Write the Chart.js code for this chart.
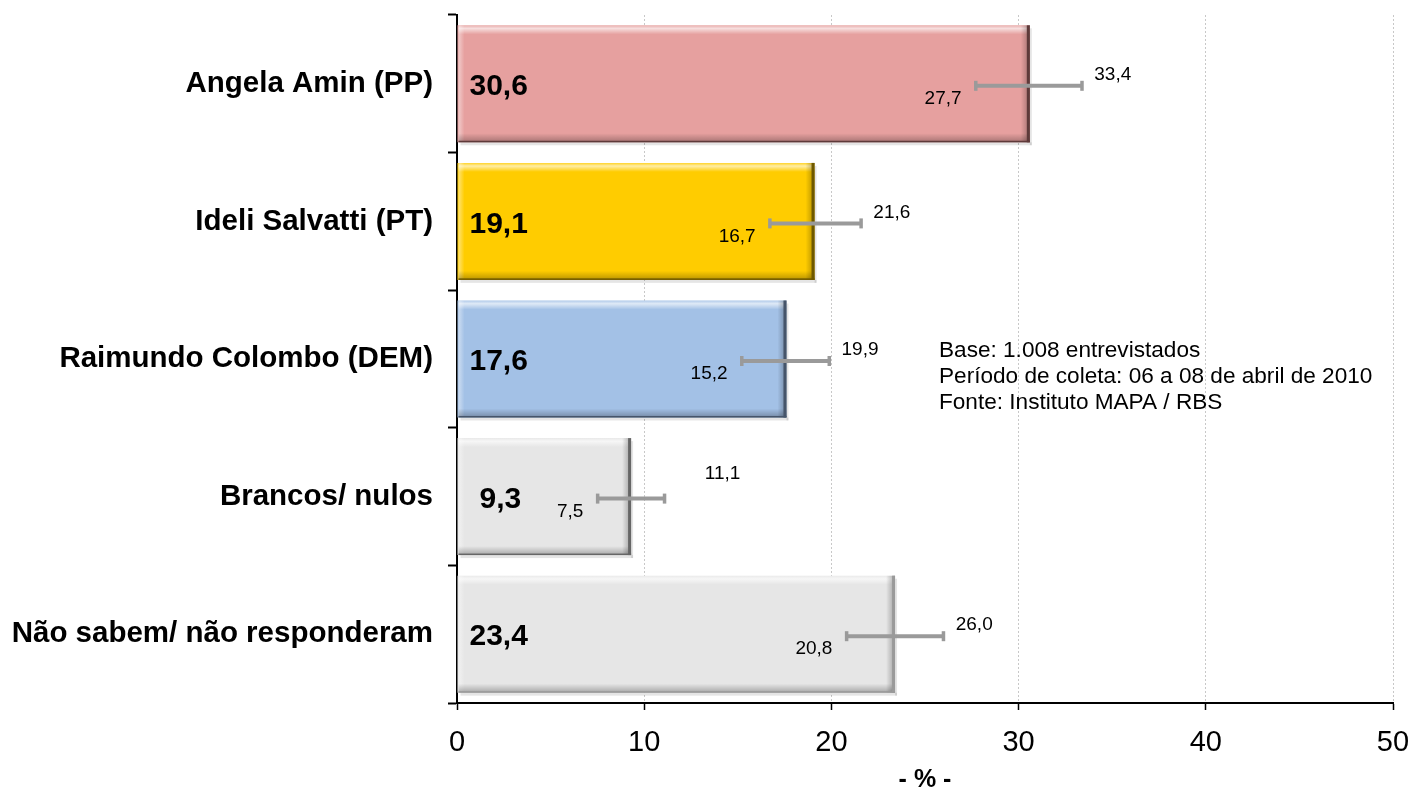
<!DOCTYPE html>
<html>
<head>
<meta charset="utf-8">
<script src="https://cdn.jsdelivr.net/npm/chart.js@4"></script>
<style>
  html, body { margin: 0; padding: 0; background: #ffffff; }
  #wrap { width: 1411px; height: 793px; }
</style>
</head>
<body>
<div id="wrap"><canvas id="c" width="1411" height="793"></canvas></div>
<script>
const categories = ['Angela Amin (PP)', 'Ideli Salvatti (PT)', 'Raimundo Colombo (DEM)', 'Brancos/ nulos', 'Não sabem/ não responderam'];
const values = [30.6, 19.1, 17.6, 9.3, 23.4];
const lowerBounds = [27.7, 16.7, 15.2, 7.5, 20.8];
const upperBounds = [33.4, 21.6, 19.9, 11.1, 26.0];
const barColors = ['#E6A09F', '#FFCC00', '#A3C1E6', '#E6E6E6', '#E6E6E6'];
const barEdgeColors = ['#5E3A3A', '#6E5800', '#46556A', '#666666', '#9A9A9A'];
const xTickValues = [0, 10, 20, 30, 40, 50];
const axisTitle = '- % -';
const noteLines = ['Base: 1.008 entrevistados', 'Período de coleta: 06 a 08 de abril de 2010', 'Fonte: Instituto MAPA / RBS'];

const FONT = 'Arial, "Liberation Sans", sans-serif';
const fmt = v => v.toFixed(1).replace('.', ',');

const overlay = {
  id: 'overlay',
  afterDatasetsDraw(chart) {
    const ctx = chart.ctx;
    const meta = chart.getDatasetMeta(0);
    const xs = chart.scales.x;
    const shifts = chart.options.plugins.overlay.highShift || {};
    meta.data.forEach((el, i) => {
      const p = el.getProps(['x', 'y', 'base', 'height'], true);
      const l = p.base + 1, r = p.x, t = p.y - p.height / 2, b = p.y + p.height / 2;
      const edge = barEdgeColors[i];
      ctx.save();
      // soft outer shadow
      ctx.fillStyle = 'rgba(0,0,0,0.10)';
      ctx.fillRect(l + 2, b, r - l, 3);
      ctx.fillRect(r, t + 3, 2, b - t);
      // top highlight
      let g = ctx.createLinearGradient(0, t, 0, t + 9);
      g.addColorStop(0, 'rgba(255,255,255,0.15)');
      g.addColorStop(0.35, 'rgba(255,255,255,0.65)');
      g.addColorStop(1, 'rgba(255,255,255,0)');
      ctx.fillStyle = g;
      ctx.fillRect(l, t, r - l, 9);
      // left highlight
      g = ctx.createLinearGradient(l, 0, l + 6, 0);
      g.addColorStop(0, 'rgba(255,255,255,0.45)');
      g.addColorStop(1, 'rgba(255,255,255,0)');
      ctx.fillStyle = g;
      ctx.fillRect(l, t, 6, b - t);
      // bottom shade
      g = ctx.createLinearGradient(0, b - 9, 0, b);
      g.addColorStop(0, 'rgba(0,0,0,0)');
      g.addColorStop(1, 'rgba(0,0,0,0.28)');
      ctx.fillStyle = g;
      ctx.fillRect(l, b - 9, r - l, 9);
      // right shade
      g = ctx.createLinearGradient(r - 9, 0, r, 0);
      g.addColorStop(0, 'rgba(0,0,0,0)');
      g.addColorStop(1, 'rgba(0,0,0,0.3)');
      ctx.fillStyle = g;
      ctx.fillRect(r - 9, t, 9, b - t);
      // dark edges
      ctx.fillStyle = edge;
      ctx.fillRect(r - 3, t, 3, b - t);
      ctx.fillRect(l, b - 1.5, r - l, 1.5);
      ctx.restore();

      // value label
      ctx.save();
      ctx.font = 'bold 30px ' + FONT;
      ctx.fillStyle = '#000';
      ctx.textBaseline = 'middle';
      ctx.textAlign = 'left';
      ctx.fillText(fmt(values[i]), p.base + 12 + (i === 3 ? 10 : 0), p.y + 3);
      ctx.restore();

      // error bar
      const lo = xs.getPixelForValue(lowerBounds[i]);
      const hi = xs.getPixelForValue(upperBounds[i]);
      const cy = p.y + 2;
      ctx.save();
      ctx.strokeStyle = '#9A9A9A';
      ctx.lineWidth = 4;
      ctx.beginPath();
      ctx.moveTo(lo, cy);
      ctx.lineTo(hi, cy);
      ctx.stroke();
      ctx.fillStyle = '#9A9A9A';
      ctx.fillRect(lo - 1.5, cy - 5, 3.5, 10);
      ctx.fillRect(hi - 2, cy - 5, 3.5, 10);
      ctx.font = '19px ' + FONT;
      ctx.fillStyle = '#000';
      ctx.textBaseline = 'middle';
      ctx.textAlign = 'right';
      ctx.fillText(fmt(lowerBounds[i]), lo - 14, cy + 13);
      ctx.textAlign = 'left';
      const shift = shifts[i] || [0, 0];
      ctx.fillText(fmt(upperBounds[i]), hi + 12 + shift[0], cy - 11 + shift[1]);
      ctx.restore();
    });

    // note
    ctx.save();
    ctx.font = '22.6px ' + FONT;
    ctx.fillStyle = '#000';
    ctx.textBaseline = 'middle';
    ctx.textAlign = 'left';
    noteLines.forEach((s, k) => ctx.fillText(s, 939, 351 + k * 26));
    ctx.restore();
  }
};

new Chart(document.getElementById('c'), {
  type: 'bar',
  data: {
    labels: categories,
    datasets: [{
      data: values,
      backgroundColor: barColors,
      borderWidth: 0,
      categoryPercentage: 0.85,
      barPercentage: 1.0
    }]
  },
  options: {
    indexAxis: 'y',
    responsive: false,
    animation: false,
    devicePixelRatio: 1,
    layout: { padding: { top: 15, right: 18, left: 0, bottom: 0 } },
    plugins: {
      legend: { display: false },
      tooltip: { enabled: false },
      overlay: { highShift: { 3: [28, -14] } }
    },
    scales: {
      x: {
        min: 0, max: 50,
        afterBuildTicks: s => { s.ticks = xTickValues.map(v => ({ value: v })); },
        afterFit: s => { s.height = 90; s.paddingLeft = 0; s.paddingRight = 0; },
        ticks: {
          font: { family: FONT, size: 29 },
          color: '#000',
          padding: 16,
          maxRotation: 0,
          callback: v => String(v)
        },
        grid: {
          color: '#C8C8C8',
          lineWidth: 1,
          tickLength: 7,
          tickColor: '#000',
          tickWidth: 1.5,
          tickBorderDash: [],
          drawTicks: true
        },
        border: { color: '#000', width: 2, dash: [2, 2] },
        title: {
          display: true,
          text: axisTitle,
          font: { family: FONT, size: 25, weight: 'bold' },
          color: '#000',
          padding: { top: 0, bottom: -2 }
        }
      },
      y: {
        afterFit: s => { s.width = 457; s.paddingTop = 0; s.paddingBottom = 0; },
        ticks: {
          font: { family: FONT, size: 29.5, weight: 'bold' },
          color: '#000',
          padding: 15
        },
        grid: {
          offset: true,
          drawOnChartArea: false,
          tickLength: 9,
          tickColor: '#000',
          tickWidth: 2
        },
        border: { color: '#000', width: 2 }
      }
    }
  },
  plugins: [overlay]
});
</script>
</body>
</html>
